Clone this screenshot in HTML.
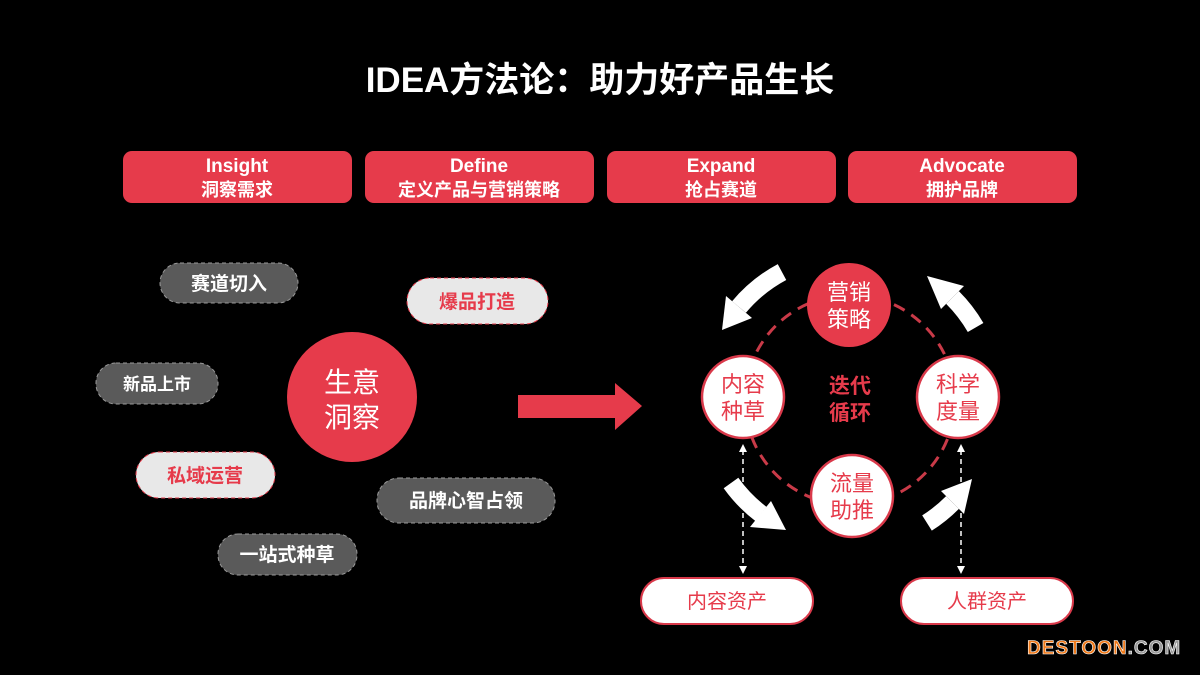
<!DOCTYPE html>
<html><head><meta charset="utf-8"><style>
body{margin:0;background:#000;width:1200px;height:670px;overflow:hidden;font-family:"Liberation Sans","Noto Sans CJK SC",sans-serif}
</style></head><body>
<svg width="1200" height="670" viewBox="0 0 1200 670" xmlns="http://www.w3.org/2000/svg" style="font-family:'Liberation Sans','Noto Sans CJK SC',sans-serif">
<rect width="1200" height="670" fill="#000"/>
<text x="600" y="92" text-anchor="middle" fill="#fff" font-size="35" font-weight="bold">IDEA方法论：助力好产品生长</text>
<g font-weight="bold" fill="#fff" text-anchor="middle">
<rect x="123" y="151" width="229" height="52" rx="9" fill="#e63b4b"/>
<text x="237" y="172" font-size="19">Insight</text><text x="237" y="196" font-size="18">洞察需求</text>
<rect x="365" y="151" width="229" height="52" rx="9" fill="#e63b4b"/>
<text x="479" y="172" font-size="19">Define</text><text x="479" y="196" font-size="18">定义产品与营销策略</text>
<rect x="607" y="151" width="229" height="52" rx="9" fill="#e63b4b"/>
<text x="721" y="172" font-size="19">Expand</text><text x="721" y="196" font-size="18">抢占赛道</text>
<rect x="848" y="151" width="229" height="52" rx="9" fill="#e63b4b"/>
<text x="962" y="172" font-size="19">Advocate</text><text x="962" y="196" font-size="18">拥护品牌</text>
</g>
<g font-weight="bold" font-size="19" text-anchor="middle" stroke-dasharray="4 3">
<rect x="160" y="263" width="138" height="40" rx="20" fill="#5a5a5a" stroke="#999"/>
<text x="229" y="290" fill="#fff" stroke="none">赛道切入</text>
<rect x="407" y="278" width="141" height="46" rx="23" fill="#e8e8e8" stroke="#e63b4b"/>
<text x="477" y="308" fill="#e63b4b" stroke="none">爆品打造</text>
<rect x="96" y="363" width="122" height="41" rx="20" fill="#5a5a5a" stroke="#999"/>
<text x="157" y="390" fill="#fff" stroke="none" font-size="17">新品上市</text>
<rect x="136" y="452" width="139" height="46" rx="23" fill="#e8e8e8" stroke="#e63b4b"/>
<text x="205" y="482" fill="#e63b4b" stroke="none">私域运营</text>
<rect x="377" y="478" width="178" height="45" rx="22" fill="#5a5a5a" stroke="#999"/>
<text x="466" y="507" fill="#fff" stroke="none">品牌心智占领</text>
<rect x="218" y="534" width="139" height="41" rx="20" fill="#5a5a5a" stroke="#999"/>
<text x="287" y="561" fill="#fff" stroke="none">一站式种草</text>
</g>
<circle cx="352" cy="397" r="65" fill="#e63b4b"/>
<text x="352" y="392" fill="#fff" font-size="28" text-anchor="middle">生意</text>
<text x="352" y="427" fill="#fff" font-size="28" text-anchor="middle">洞察</text>
<polygon points="518,395 615,395 615,383 642,406 615,430 615,418 518,418" fill="#e63b4b"/>
<circle cx="850" cy="400" r="105" fill="none" stroke="#c93a48" stroke-width="3" stroke-dasharray="12 8"/>
<g stroke="#fff" stroke-width="1.5" stroke-dasharray="5 4"><line x1="743" y1="450" x2="743" y2="570"/><line x1="961" y1="450" x2="961" y2="570"/></g>
<g fill="#fff"><polygon points="739,452 743,444 747,452"/><polygon points="739,566 743,574 747,566"/><polygon points="957,452 961,444 965,452"/><polygon points="957,566 961,574 965,566"/></g>
<circle cx="849" cy="305" r="42" fill="#e63b4b"/>
<text x="849" y="300" fill="#fff" font-size="22" text-anchor="middle">营销</text>
<text x="849" y="327" fill="#fff" font-size="22" text-anchor="middle">策略</text>
<g fill="#fff" stroke="#d9394a" stroke-width="2.5">
<circle cx="743" cy="397" r="41"/><circle cx="958" cy="397" r="41"/><circle cx="852" cy="496" r="41"/>
</g>
<g fill="#e63b4b" font-size="22" text-anchor="middle">
<text x="743" y="392">内容</text><text x="743" y="419">种草</text>
<text x="958" y="392">科学</text><text x="958" y="419">度量</text>
<text x="852" y="491">流量</text><text x="852" y="518">助推</text>
<text x="850" y="393" font-weight="bold" font-size="21">迭代</text><text x="850" y="420" font-weight="bold" font-size="21">循环</text>
</g>
<g fill="none" stroke="#fff" stroke-width="18">
<path d="M782,272 A145,145 0 0 0 739,307"/>
<path d="M731,483 A145,145 0 0 0 761,514"/>
<path d="M927,523 A145,145 0 0 0 952.5,502.5"/>
<path d="M975.6,327.5 A145,145 0 0 0 952.5,297.5"/>
</g>
<g fill="#fff">
<polygon points="752,318 726,296 722,330"/>
<polygon points="771,501 750,527 786,530"/>
<polygon points="941,491 964,514 972,479"/>
<polygon points="941,309 964,286 927,276"/>
</g>
<g fill="#fff" stroke="#d9394a" stroke-width="2">
<rect x="641" y="578" width="172" height="46" rx="23"/><rect x="901" y="578" width="172" height="46" rx="23"/>
</g>
<g fill="#e63b4b" font-size="20" text-anchor="middle"><text x="727" y="608">内容资产</text><text x="987" y="608">人群资产</text></g>
<text x="1027" y="654" font-size="19" font-weight="bold" fill="#f07a1a" stroke="#fff" stroke-width="0.6" letter-spacing="1">DESTOON<tspan fill="#999">.COM</tspan></text>
</svg>
</body></html>
